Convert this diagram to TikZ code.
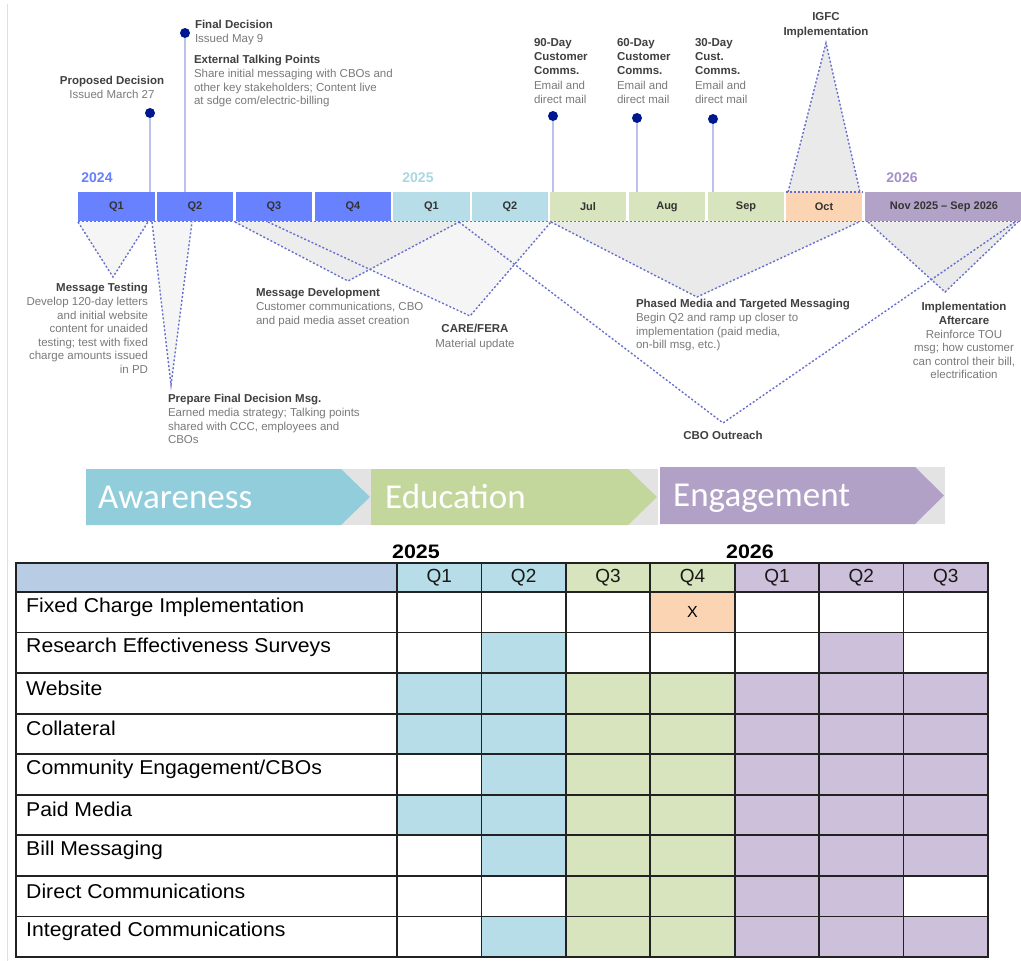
\documentclass[tikz,border=0pt]{standalone}
\usepackage{fontspec}
\setmainfont{Liberation Sans}
\newfontfamily\calib{Carlito}
\usetikzlibrary{calc}
\definecolor{qblue}{HTML}{6882FF}
\definecolor{lblue}{HTML}{B7DDE8}
\definecolor{lgreen}{HTML}{D7E4BD}
\definecolor{peach}{HTML}{FBD4B4}
\definecolor{lpurp}{HTML}{B3A2C7}
\definecolor{tblue}{HTML}{B7DEE8}
\definecolor{tgreen}{HTML}{D7E4BD}
\definecolor{tpurp}{HTML}{CCC0DA}
\definecolor{hdrblue}{HTML}{B8CCE4}
\definecolor{navy}{HTML}{00188F}
\definecolor{stemcol}{HTML}{B9C2E8}
\definecolor{dashcol}{HTML}{6670CC}
\definecolor{headtxt}{HTML}{404040}
\definecolor{desctxt}{HTML}{7A7A7A}
\definecolor{y24}{HTML}{6680FF}
\definecolor{y25}{HTML}{A9D8E4}
\definecolor{y26}{HTML}{A390CB}
\definecolor{awc}{HTML}{92CDDC}
\definecolor{edc}{HTML}{C3D69B}
\definecolor{enc}{HTML}{B2A1C7}
\definecolor{bandbg}{HTML}{E3E3E3}
\definecolor{trigray}{HTML}{EAEAEA}
\definecolor{trilight}{HTML}{F5F5F5}
\definecolor{gridcol}{HTML}{222222}
\newcommand{\hd}[1]{{\color{headtxt}\bfseries #1}}
\begin{document}
\begin{tikzpicture}[x=1pt,y=-1pt,
  txt/.style={inner sep=0pt, outer sep=0pt, font=\fontsize{11.5}{13.6}\selectfont, text=desctxt},
  seg/.style={inner sep=0pt, minimum height=29pt, font=\bfseries\fontsize{11}{13}\selectfont, text=black!80},
  milestone/.style={circle, fill=navy, inner sep=0pt, minimum size=10pt},
  stemline/.style={draw=stemcol, line width=2pt},
  dline/.style={draw=dashcol, line width=1.4pt, dash pattern=on 2pt off 2pt},
  yearlab/.style={inner sep=0pt, font=\bfseries\fontsize{14}{16}\selectfont},
  chevtxt/.style={inner sep=0pt, anchor=base west, text=white, font=\calib\fontsize{35}{40}\selectfont},
  rowlab/.style={inner sep=0pt, anchor=west, font=\fontsize{20}{22}\selectfont, text=black},
  qlab/.style={inner sep=0pt, font=\fontsize{19}{22}\selectfont, text=black!90},
  tyear/.style={inner sep=0pt, font=\bfseries\fontsize{19.5}{22}\selectfont, text=black},
  grid/.style={draw=gridcol, line width=1.8pt}
]
\useasboundingbox (0,0) rectangle (1021,961);
\fill[white] (0,0) rectangle (1021,961);
\draw[gray!25, line width=0.8pt] (7,4) -- (7,961);

% ---------- triangles (fills) ----------
\fill[trilight] (268,222) -- (470,316) -- (551,222) -- cycle;
\fill[trigray, fill opacity=0.85] (235,222) -- (348,281) -- (459,222) -- cycle;
\fill[trilight] (78,222) -- (113,277) -- (148,222) -- cycle;
\fill[trilight] (152,222) -- (171,385) -- (192,222) -- cycle;
\fill[trigray] (551,222) -- (697,297) -- (859,222) -- cycle;
\fill[trigray] (868,222) -- (945,292) -- (1018,222) -- cycle;
\fill[trigray] (788,192) -- (826,43) -- (860,192) -- cycle;

% ---------- timeline bar ----------
\node[seg, fill=qblue, minimum width=77pt] (b1) at (116.5,206.5) {Q1};
\node[seg, fill=qblue, minimum width=76pt] (b2) at (195,206.5) {Q2};
\node[seg, fill=qblue, minimum width=76pt] (b3) at (274,206.5) {Q3};
\node[seg, fill=qblue, minimum width=76pt] (b4) at (353,206.5) {Q4};
\node[seg, fill=lblue, minimum width=77pt] (c1) at (431.5,206.5) {Q1};
\node[seg, fill=lblue, minimum width=76pt] (c2) at (510,206.5) {Q2};
\node[seg, fill=lgreen, minimum width=76pt] (m1) at (588,206.5) {Jul};
\node[seg, fill=lgreen, minimum width=76pt] (m2) at (667,206.5) {Aug};
\node[seg, fill=lgreen, minimum width=76pt] (m3) at (746,206.5) {Sep};
\node[seg, fill=peach, minimum width=76pt] (m4) at (824,206.5) {Oct};
\node[seg, fill=lpurp, minimum width=158pt] (m5) at (944,206.5) {Nov 2025 -- Sep 2026};

% dotted edges of triangles
\draw[dline] (b1.south west) -- (m5.south east);
\draw[dline] (m4.north west) -- (m4.north east);
\draw[dline] (78,222) -- (113,277) -- (148,222);
\draw[dline] (152,222) -- (171,385) -- (192,222);
\draw[dline] (235,222) -- (348,281) -- (459,222);
\draw[dline] (268,222) -- (470,316) -- (551,222);
\draw[dline] (459,222) -- (723,423) -- (1015,222);
\draw[dline] (551,222) -- (697,297) -- (859,222);
\draw[dline] (868,222) -- (945,292) -- (1018,222);
\draw[dline] (788,192) -- (826,43) -- (860,192);

% ---------- milestones ----------
\node[milestone] (pd) at (150,113) {};
\node[milestone] (fd) at (185,33) {};
\node[milestone] (d90) at (553,116) {};
\node[milestone] (d60) at (637,118) {};
\node[milestone] (d30) at (713,119) {};
\draw[stemline] (pd.south) -- (pd |- b1.north);
\draw[stemline] (fd.south) -- (fd |- b2.north);
\draw[stemline] (d90.south) -- (d90 |- m1.north);
\draw[stemline] (d60.south) -- (d60 |- m2.north);
\draw[stemline] (d30.south) -- (d30 |- m3.north);

% years
\node[yearlab, text=y24] (y24) at (97,178) {2024};
\node[yearlab, text=y25] (y25) at (418,178) {2025};
\node[yearlab, text=y26] (y26) at (902,178) {2026};

% ---------- texts above ----------
\node[txt, anchor=north, align=center] (tpd) at (112,76.5) {\hd{Proposed Decision}\\Issued March 27};
\node[txt, anchor=north west, align=left] (tfd) at (195,20.5) {\hd{Final Decision}\\Issued May 9};
\node[txt, anchor=north west, align=left] (tetp) at (194,55.5) {\hd{External Talking Points}\\Share initial messaging with CBOs and\\other key stakeholders; Content live\\at sdge com/electric-billing};
\node[txt, anchor=north west, align=left, font=\fontsize{11.5}{14.2}\selectfont] (t90) at (534,38.5) {\hd{90-Day}\\\hd{Customer}\\\hd{Comms.}\\Email and\\direct mail};
\node[txt, anchor=north west, align=left, font=\fontsize{11.5}{14.2}\selectfont] (t60) at (617,38.5) {\hd{60-Day}\\\hd{Customer}\\\hd{Comms.}\\Email and\\direct mail};
\node[txt, anchor=north west, align=left, font=\fontsize{11.5}{14.2}\selectfont] (t30) at (695,38.5) {\hd{30-Day}\\\hd{Cust.}\\\hd{Comms.}\\Email and\\direct mail};
\node[txt, anchor=north, align=center, font=\fontsize{11.5}{14.5}\selectfont] (tigfc) at (826,12.5) {\hd{IGFC}\\\hd{Implementation}};

% ---------- texts below ----------
\node[txt, anchor=north east, align=right] (tmt) at (148,283.5) {\hd{Message Testing}\\Develop 120-day letters\\and initial website\\content for unaided\\testing; test with fixed\\charge amounts issued\\in PD};
\node[txt, anchor=north west, align=left] (tpf) at (168,394.5) {\hd{Prepare Final Decision Msg.}\\Earned media strategy; Talking points\\shared with CCC, employees and\\CBOs};
\node[txt, anchor=north west, align=left] (tmd) at (256,288.5) {\hd{Message Development}\\Customer communications, CBO\\and paid media asset creation};
\node[txt, anchor=north, align=center, font=\fontsize{11.5}{14.5}\selectfont] (tcf) at (475,324.5) {\hd{CARE/FERA}\\Material update};
\node[txt, anchor=north west, align=left] (tpm) at (636,299.5) {\hd{Phased Media and Targeted Messaging}\\Begin Q2 and ramp up closer to\\implementation (paid media,\\on-bill msg, etc.)};
\node[txt, anchor=north, align=center] (tia) at (964,302.5) {\hd{Implementation}\\\hd{Aftercare}\\Reinforce TOU\\msg; how customer\\can control their bill,\\electrification};
\node[txt, anchor=center] (tcbo) at (723,435) {\hd{CBO Outreach}};

% ---------- phase band ----------
\fill[bandbg] (86,469) rectangle (371,525);
\fill[awc] (86,469) -- (341,469) -- (370,497) -- (341,525) -- (86,525) -- cycle;
\node[chevtxt] (aw) at (98,508.5) {Awareness};
\fill[bandbg] (371,469) rectangle (658,525);
\fill[edc] (371,469) -- (628,469) -- (657,497) -- (628,525) -- (371,525) -- cycle;
\node[chevtxt] (ed) at (385,508.5) {Education};
\fill[bandbg] (660,467) rectangle (945,524);
\fill[enc] (660,467) -- (915,467) -- (944,495.5) -- (915,524) -- (660,524) -- cycle;
\node[chevtxt] (en) at (673,506) {Engagement};

% ---------- table ----------
\node[tyear] (t25) at (416,552) {\scalebox{1.1}[1]{2025}};
\node[tyear] (t26) at (750,552) {\scalebox{1.1}[1]{2026}};
\fill[hdrblue] (16,563) rectangle (397,592);
\foreach \c/\col in {1/tblue,2/tblue,3/tgreen,4/tgreen,5/tpurp,6/tpurp,7/tpurp}{
  \fill[\col] ({397+84.43*(\c-1)},563) rectangle ++(84.43,29);
}
\foreach \r/\c/\col in {1/4/peach, 2/2/tblue, 2/6/tpurp,
  3/1/tblue,3/2/tblue,3/3/tgreen,3/4/tgreen,3/5/tpurp,3/6/tpurp,3/7/tpurp,
  4/1/tblue,4/2/tblue,4/3/tgreen,4/4/tgreen,4/5/tpurp,4/6/tpurp,4/7/tpurp,
  5/2/tblue,5/3/tgreen,5/4/tgreen,5/5/tpurp,5/6/tpurp,5/7/tpurp,
  6/1/tblue,6/2/tblue,6/3/tgreen,6/4/tgreen,6/5/tpurp,6/6/tpurp,6/7/tpurp,
  7/2/tblue,7/3/tgreen,7/4/tgreen,7/5/tpurp,7/6/tpurp,7/7/tpurp,
  8/3/tgreen,8/4/tgreen,8/5/tpurp,8/6/tpurp,
  9/2/tblue,9/3/tgreen,9/4/tgreen,9/5/tpurp,9/6/tpurp,9/7/tpurp}{
  \fill[\col] ({397+84.43*(\c-1)},{592+40.56*(\r-1)}) rectangle ++(84.43,40.56);
}
\foreach \c/\q in {1/Q1,2/Q2,3/Q3,4/Q4,5/Q1,6/Q2,7/Q3}{
  \node[qlab] (hq\c) at ({397+84.43*(\c-0.5)},578) {\q};
}
\node[inner sep=0pt, font=\fontsize{16}{18}\selectfont] (xmark) at ({397+84.43*3.5},611.5) {X};
\foreach \lab [count=\r] in {Fixed Charge Implementation, Research Effectiveness Surveys, Website, Collateral, Community Engagement/CBOs, Paid Media, Bill Messaging, Direct Communications, Integrated Communications}{
  \node[rowlab] (row\r) at (26,{592+40.56*(\r-1)+15}) {\scalebox{1.06}[1]{\lab}};
}
% grid
\foreach \r in {1,...,9}{
  \draw[grid] (16,{592+40.56*\r}) -- (988,{592+40.56*\r});
}
\draw[grid] (16,592) -- (988,592);
\foreach \c in {1,...,6}{
  \draw[grid] ({397+84.43*\c},563) -- ({397+84.43*\c},957);
}
\draw[grid] (397,563) -- (397,957);
\draw[gridcol, line width=2.2pt] (16,563) rectangle (988,957);
\end{tikzpicture}
\end{document}
